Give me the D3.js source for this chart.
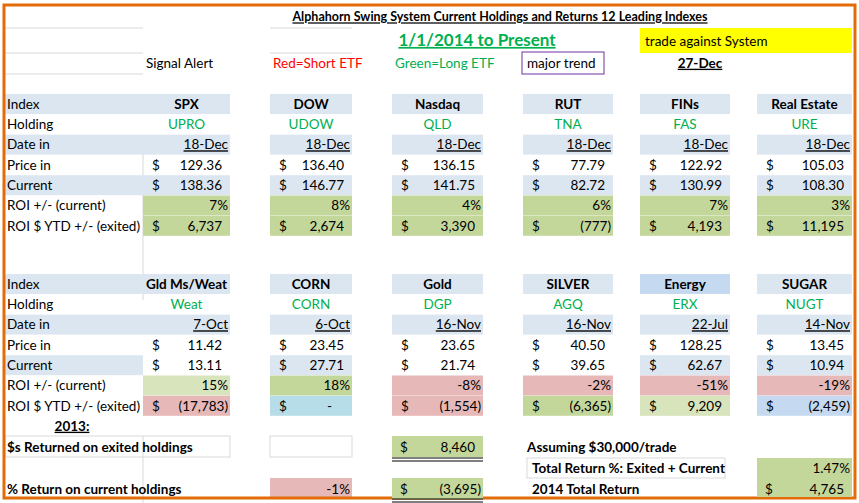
<!DOCTYPE html><html><head><meta charset="utf-8">
<script src="https://cdn.jsdelivr.net/npm/d3@7"></script>
<style>body{margin:0;background:#fff}text{font-family:Lato,"Noto Sans",sans-serif}</style></head><body>
<svg id="c" width="859" height="503"></svg>
<script>
const rowLabels=["Index","Holding","Date in","Price in","Current","ROI +/- (current)","ROI $ YTD +/- (exited)"];
const indexes1=["SPX","DOW","Nasdaq","RUT","FINs","Real Estate"];
const holdings1=["UPRO","UDOW","QLD","TNA","FAS","URE"];
const dates1=["18-Dec","18-Dec","18-Dec","18-Dec","18-Dec","18-Dec"];
const priceIn1=[129.36,136.40,136.15,77.79,122.92,105.03];
const current1=[138.36,146.77,141.75,82.72,130.99,108.30];
const roiPct1=[7,8,4,6,7,3];
const roiUsd1=[6737,2674,3390,-777,4193,11195];
const indexes2=["Gld Ms/Weat","CORN","Gold","SILVER","Energy","SUGAR"];
const holdings2=["Weat","CORN","DGP","AGQ","ERX","NUGT"];
const dates2=["7-Oct","6-Oct","16-Nov","16-Nov","22-Jul","14-Nov"];
const priceIn2=[11.42,23.45,23.65,40.50,128.25,13.45];
const current2=[13.11,27.71,21.74,39.65,62.67,10.94];
const roiPct2=[15,18,-8,-2,-51,-19];
const roiUsd2=[-17783,0,-1554,-6365,9209,-2459];
const exitedReturn=8460, currentReturn=-3695, currentPct=-1, totalPct=1.47, totalReturn=4765;

const svg=d3.select("#c");
const blue="#dce6f1",green="#c4d79b",lgreen="#d8e4bc",pink="#e6b8b7",cyan="#b7dee8",sblue="#c5d9f1";
const bx=[[143,230],[270,352],[392,483],[523,613],[640,730],[757,852]];
const fmtN=d3.format(",.0f");
const usd=v=>v===0?"-":(v<0?"("+fmtN(-v)+")":fmtN(v));
function rect(x0,x1,y0,y1,f,s){svg.append("rect").attr("x",x0).attr("y",y0).attr("width",x1-x0).attr("height",y1-y0).attr("fill",f).attr("stroke",s||"none");}
function txt(x,y,t,o={}){const e=svg.append("text").attr("x",x).attr("y",y).attr("dy","0.35em").attr("font-size",o.size||13.5).attr("text-anchor",o.anchor||"start").attr("fill",o.color||"#000").attr("font-weight",o.bold?"bold":"normal").text(t);if(o.u)e.attr("text-decoration","underline");return e;}
const grid="#d9d9d9";
[28,53,74].forEach(y=>svg.append("line").attr("x1",5).attr("x2",143).attr("y1",y).attr("y2",y).attr("stroke",grid));
[[270,352,28],[270,352,53]].forEach(d=>svg.append("line").attr("x1",d[0]).attr("x2",d[1]).attr("y1",d[2]).attr("y2",d[2]).attr("stroke",grid));
svg.append("line").attr("x1",143).attr("x2",143).attr("y1",150).attr("y2",300).attr("stroke",grid);
svg.append("line").attr("x1",143).attr("x2",143).attr("y1",436).attr("y2",503).attr("stroke",grid);

function block(top,idx,hold,dates,pin,cur,rp,ru,fills){
  const y=i=>top+i*20.3;
  rowLabels.forEach((l,i)=>{ if([0,2,4].includes(i)) rect(5,143,y(i),y(i)+20,blue); txt(7,y(i)+10,l);});
  bx.forEach((b,k)=>{
    const [x0,x1]=b, xm=(x0+x1)/2;
    rect(x0,x1,y(0),y(0)+20,fills.head[k]); txt(xm,y(0)+10,idx[k],{anchor:"middle",bold:true});
    txt(xm,y(1)+10,hold[k],{anchor:"middle",color:"#00b050"});
    rect(x0,x1,y(2),y(2)+20,blue); txt(x1-2,y(2)+10,dates[k],{anchor:"end",u:true});
    txt(x0+9,y(3)+10,"$"); txt(x1-8,y(3)+10,pin[k].toFixed(2),{anchor:"end"});
    if(fills.cur[k])rect(x0,x1,y(4),y(4)+20,fills.cur[k]);
    txt(x0+9,y(4)+10,"$"); txt(x1-8,y(4)+10,cur[k].toFixed(2),{anchor:"end"});
    rect(x0,x1,y(5),y(5)+20,fills.rp[k]); txt(x1-2,y(5)+10,rp[k]+"%",{anchor:"end"});
    rect(x0,x1,y(6),y(6)+20,fills.ru[k]); txt(x0+9,y(6)+10,"$");
    txt(ru[k]<0?x1-2:(ru[k]===0?x1-20:x1-8),y(6)+10,usd(ru[k]),{anchor:"end"});
  });
}
block(94,indexes1,holdings1,dates1,priceIn1,current1,roiPct1,roiUsd1,{head:Array(6).fill(blue),cur:Array(6).fill(blue),rp:Array(6).fill(green),ru:Array(6).fill(green)});
block(274,indexes2,holdings2,dates2,priceIn2,current2,roiPct2,roiUsd2,{head:[blue,blue,blue,blue,sblue,blue],cur:[null,blue,null,null,blue,blue],rp:[lgreen,green,pink,pink,pink,pink],ru:[pink,cyan,pink,green,lgreen,sblue]});

txt(500,17,"Alphahorn Swing System Current Holdings and Returns 12 Leading Indexes",{anchor:"middle",bold:true,size:12.5,u:true});
txt(477,40,"1/1/2014 to Present",{anchor:"middle",bold:true,size:17,color:"#00b050",u:true});
rect(640,852,28,53,"#ffff00"); txt(645,41,"trade against System");
txt(146,63,"Signal Alert"); txt(273,63,"Red=Short ETF",{color:"#ff0000"}); txt(395,63,"Green=Long ETF",{color:"#00b050"});
rect(522,604,52,74,"none","#7030a0"); txt(527,63,"major trend");
txt(700,63,"27-Dec",{anchor:"middle",bold:true,u:true});

txt(72,426,"2013:",{anchor:"middle",bold:true,u:true});
rect(5,230,436,457,"none",grid); txt(7,447,"$s Returned on exited holdings",{bold:true});
rect(270,352,436,457,"none",grid);
function dbl(x0,x1,y){[y,y+3].forEach(v=>svg.append("line").attr("x1",x0).attr("x2",x1).attr("y1",v).attr("y2",v).attr("stroke","#000"));}
rect(392,483,436,457,green); txt(400,447,"$"); txt(475,447,usd(exitedReturn),{anchor:"end"}); dbl(392,483,458);
txt(527,447,"Assuming $30,000/trade",{bold:true});
rect(527,725,458,478,"none",grid); txt(532,468,"Total Return %: Exited + Current",{bold:true});
rect(757,852,458,478,green); txt(850,468,totalPct.toFixed(2)+"%",{anchor:"end"});
txt(7,489,"% Return on current holdings",{bold:true});
rect(270,352,478,499,pink); txt(350,489,currentPct+"%",{anchor:"end"});
const o="#e36c09";
svg.append("path").attr("d","M4,5H855V498H4Z").attr("fill","none").attr("stroke",o).attr("stroke-width",3);
rect(392,483,478,499,green); txt(400,489,"$"); txt(481,489,usd(currentReturn),{anchor:"end"}); dbl(392,483,499);
txt(532,489,"2014 Total Return",{bold:true});
rect(757,852,478,497,green); txt(765,489,"$"); txt(844,489,usd(totalReturn),{anchor:"end"});
</script></body></html>
